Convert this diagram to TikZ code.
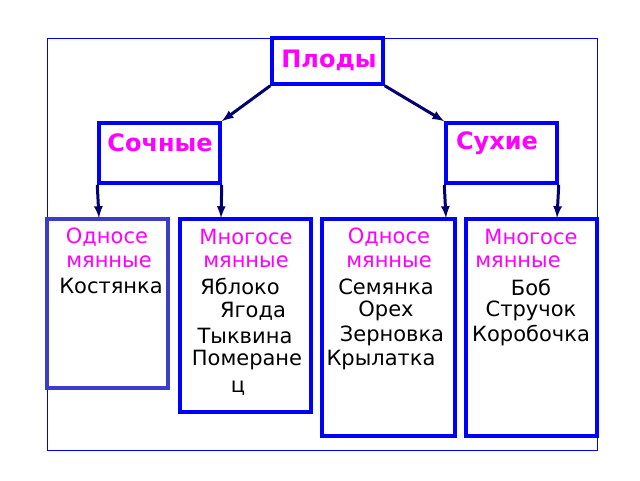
\documentclass[tikz,border=0pt]{standalone}
\usepackage{fontspec}
\setmainfont{DejaVu Sans}
\definecolor{mag}{RGB}{255,0,255}
\begin{document}
\begin{tikzpicture}[x=1pt,y=-1pt,
  bx/.style={draw=blue,line width=3.5pt},
  ttl/.style={text=mag,font=\fontsize{24}{26}\selectfont\bfseries},
  mg/.style={text=mag,font=\fontsize{21}{24}\selectfont,inner sep=0pt},
  bk/.style={text=black,font=\fontsize{21}{24}\selectfont,inner sep=0pt},
  ar/.style={draw={rgb,255:red,0;green,0;blue,110},line width=3pt,-latex}]
\useasboundingbox (0,0) rectangle (640,480);
\draw[blue,line width=0.8pt] (47,38) rectangle (597,450);
\node[bx,minimum width=111pt,minimum height=46pt] (pl) at (327.5,61) {};
\node[ttl] at (329,60) {Плоды};
\node[bx,minimum width=121pt,minimum height=60pt] (so) at (159.5,153) {};
\node[ttl] at (160,143) {Сочные};
\node[bx,minimum width=111pt,minimum height=60pt] (su) at (501.5,153) {};
\node[ttl] at (497,143) {Сухие};
\draw[ar] (pl.south west) -- (so.north east);
\draw[ar] (pl.south east) -- (su.north west);
\draw[draw={rgb,255:red,60;green,60;blue,200},line width=4pt] (47,219) rectangle (168,388);
\draw[bx] (180,219) rectangle (311,412);
\draw[bx] (322,219) rectangle (455,436);
\draw[bx] (466,219) rectangle (597,436);
\coordinate (a1) at (99,218); \coordinate (a2) at (221,218);
\coordinate (a3) at (446,218); \coordinate (a4) at (557,218);
\draw[ar] (so.south west) -- (a1);
\draw[ar] (so.south east) -- (a2);
\draw[ar] (su.south west) -- (a3);
\draw[ar] (su.south east) -- (a4);
\node[mg] at (107,237) {Односе};
\node[mg] at (109,262) {мянные};
\node[bk] at (111,286) {Костянка};
\node[mg] at (246,237) {Многосе};
\node[mg] at (246,262) {мянные};
\node[bk] at (240,286) {Яблоко};
\node[bk] at (253,311) {Ягода};
\node[bk] at (245,336) {Тыквина};
\node[bk] at (247,360) {Померане};
\node[bk] at (238,388) {ц};
\node[mg] at (389,237) {Односе};
\node[mg] at (389,262) {мянные};
\node[bk] at (386,287) {Семянка};
\node[bk] at (386,311) {Орех};
\node[bk] at (392,336) {Зерновка};
\node[bk] at (381,360) {Крылатка};
\node[mg] at (531,237) {Многосе};
\node[mg] at (518,262) {мянные};
\node[bk] at (531,287) {Боб};
\node[bk] at (531,311) {Стручок};
\node[bk] at (531,336) {Коробочка};
\end{tikzpicture}
\end{document}
